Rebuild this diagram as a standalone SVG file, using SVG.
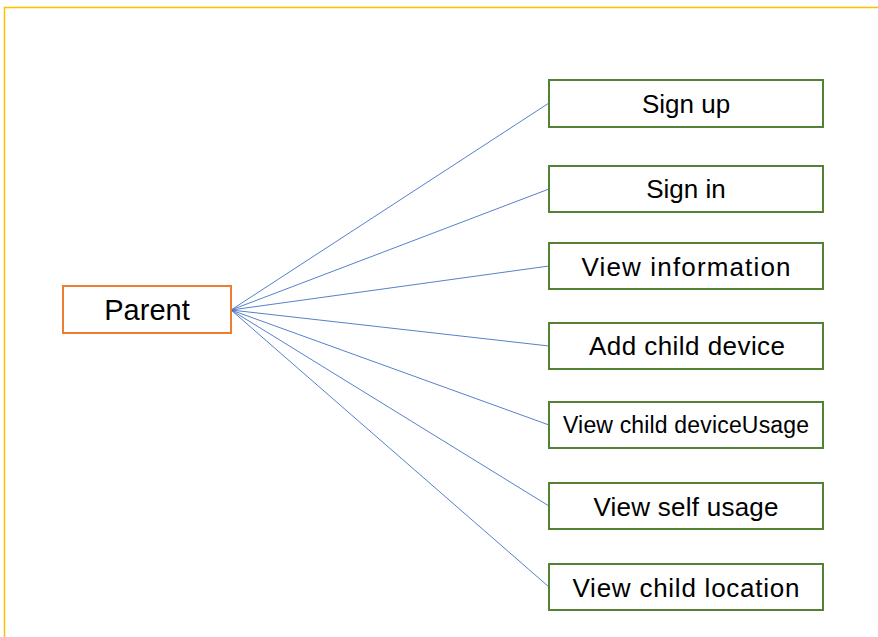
<svg xmlns="http://www.w3.org/2000/svg" width="878" height="637" viewBox="0 0 878 637">
<style>
.box{fill:#fff;stroke:#548235;stroke-width:2}
.par{fill:#fff;stroke:#ED7D31;stroke-width:2}
.t{font-family:"Liberation Sans",Arial,sans-serif;font-size:26px;fill:#000;text-anchor:middle}
.c line{stroke:#4472C4;stroke-width:0.9}
</style>
<rect width="878" height="637" fill="#fff"/>
<path d="M4.5 637 V7.5 H878" fill="none" stroke="#FFC000" stroke-width="1.5"/>
<g class="c" id="connectors">
<line x1="231" y1="310" x2="549" y2="103"/>
<line x1="231" y1="310" x2="549" y2="189"/>
<line x1="231" y1="310" x2="549" y2="266"/>
<line x1="231" y1="310" x2="549" y2="346"/>
<line x1="231" y1="310" x2="549" y2="425"/>
<line x1="231" y1="310" x2="549" y2="506"/>
<line x1="231" y1="310" x2="549" y2="587"/>
</g>
<g id="parent"><rect class="par" x="63" y="286" width="168" height="47"/><text class="t" x="147" y="320" style="font-size:29px">Parent</text></g>
<g id="signup"><rect class="box" x="549" y="80" width="274" height="47"/><text class="t" x="686" y="113">Sign up</text></g>
<g id="signin"><rect class="box" x="549" y="166" width="274" height="46"/><text class="t" x="686" y="198">Sign in</text></g>
<g id="viewinfo"><rect class="box" x="549" y="243" width="274" height="46"/><text class="t" x="686" y="276" textLength="209" lengthAdjust="spacing">View information</text></g>
<g id="addchild"><rect class="box" x="549" y="323" width="274" height="46"/><text class="t" x="687" y="355" textLength="196" lengthAdjust="spacing">Add child device</text></g>
<g id="viewchildusage"><rect class="box" x="549" y="402" width="274" height="46"/><text class="t" x="686" y="433" style="font-size:23px" textLength="246" lengthAdjust="spacing">View child deviceUsage</text></g>
<g id="viewself"><rect class="box" x="549" y="483" width="274" height="46"/><text class="t" x="686" y="516" textLength="185" lengthAdjust="spacing">View self usage</text></g>
<g id="viewlocation"><rect class="box" x="549" y="564" width="274" height="46"/><text class="t" x="686" y="597" textLength="227" lengthAdjust="spacing">View child location</text></g>
</svg>
